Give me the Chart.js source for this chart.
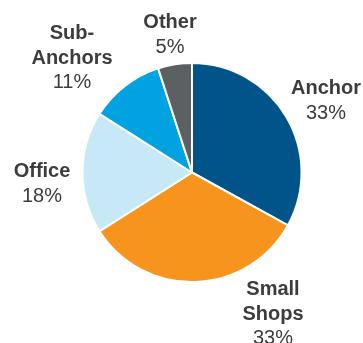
<!DOCTYPE html>
<html>
<head>
<meta charset="utf-8">
<script src="https://cdn.jsdelivr.net/npm/chart.js@4/dist/chart.umd.min.js"></script>
<style>
  html, body { margin: 0; padding: 0; background: #fff; }
  #wrap { width: 363px; height: 343px; }
</style>
</head>
<body>
<div id="wrap"><canvas id="pie" width="363" height="343"></canvas></div>
<script>
// ---------- Data --------------------------------------------------------
const categories = ["Anchor", "Small\nShops", "Office", "Sub-\nAnchors", "Other"];
const shares = [33, 33, 18, 11, 5];
const colors = ["#00548a", "#f7941e", "#c6e8f7", "#00a3e0", "#5d6062"];

// label offsets from pie centre (first line), hand placed like the original
const labelOffsets = [
  [134, -84], [81, 117], [-150, -1], [-120, -139], [-22, -150],
];

const TEXT = "#3c3c3c";
const LINE_H = 24.5;

const outsideLabels = {
  id: "outsideLabels",
  afterDraw(chart) {
    const ctx = chart.ctx;
    const arc = chart.getDatasetMeta(0).data[0];
    const cx = arc.x, cy = arc.y;
    ctx.save();
    ctx.fillStyle = TEXT;
    ctx.textAlign = "center";
    ctx.textBaseline = "middle";
    categories.forEach((name, i) => {
      const [dx, dy] = labelOffsets[i];
      const lines = name.split("\n");
      let y = cy + dy;
      ctx.font = "bold 20px 'Liberation Sans', Arial, sans-serif";
      lines.forEach(l => { ctx.fillText(l, cx + dx, y); y += LINE_H; });
      ctx.font = "20px 'Liberation Sans', Arial, sans-serif";
      ctx.fillText(shares[i] + "%", cx + dx, y);
    });
    ctx.restore();
  },
};

new Chart(document.getElementById("pie").getContext("2d"), {
  type: "pie",
  data: {
    labels: categories,
    datasets: [{
      data: shares,
      backgroundColor: colors,
      borderColor: "#ffffff",
      borderWidth: 2,
    }],
  },
  options: {
    responsive: false,
    animation: false,
    layout: { padding: { left: 81, right: 60, top: 62, bottom: 60 } },
    plugins: {
      legend: { display: false },
      tooltip: { enabled: false },
    },
  },
  plugins: [outsideLabels],
});
</script>
</body>
</html>
